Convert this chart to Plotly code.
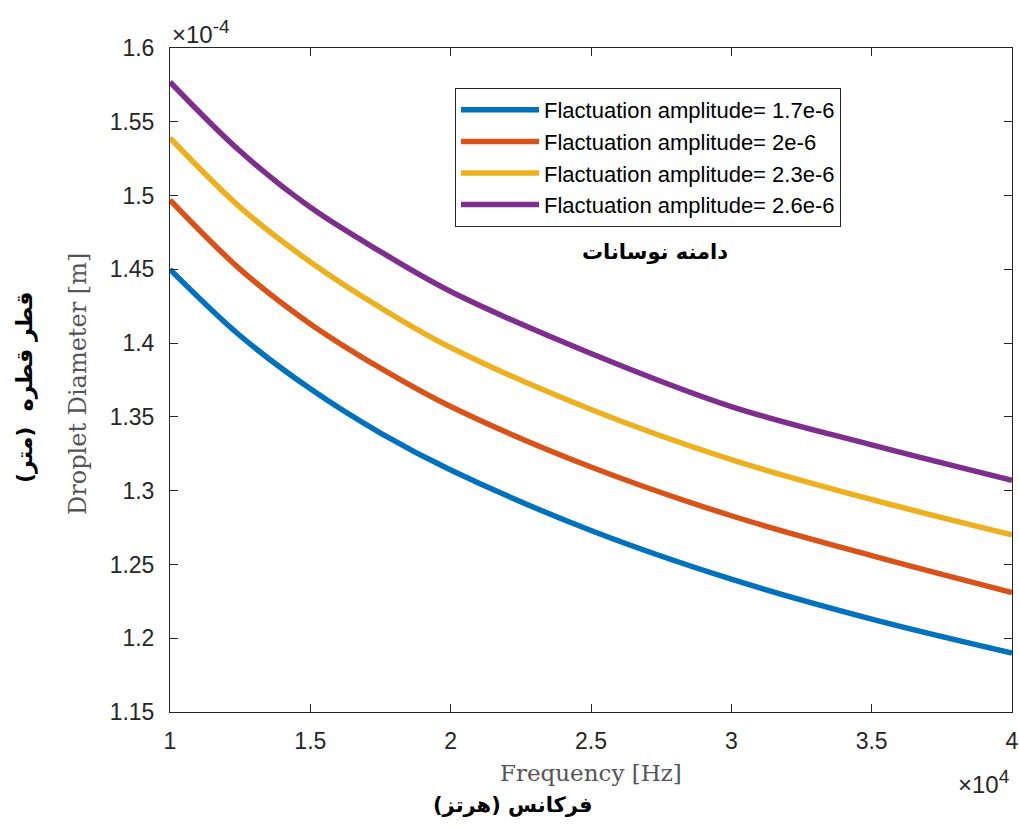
import plotly.graph_objects as go

# Frequency in units of 1e4 Hz
freq = [1.0, 1.25, 1.5, 1.75, 2.0, 2.5, 3.0, 3.5, 4.0]
# Droplet diameter in units of 1e-4 m
diam_17 = [1.450, 1.405, 1.369, 1.339, 1.314, 1.273, 1.240, 1.213, 1.190]
diam_20 = [1.497, 1.450, 1.413, 1.383, 1.357, 1.316, 1.283, 1.256, 1.231]
diam_23 = [1.539, 1.492, 1.455, 1.424, 1.397, 1.355, 1.321, 1.294, 1.270]
diam_26 = [1.577, 1.530, 1.492, 1.462, 1.435, 1.393, 1.357, 1.331, 1.307]

series_names = ["Flactuation amplitude= 1.7e-6", "Flactuation amplitude= 2e-6",
                "Flactuation amplitude= 2.3e-6", "Flactuation amplitude= 2.6e-6"]
series_vals = [diam_17, diam_20, diam_23, diam_26]
colors = ["#0072BD", "#D95319", "#EDB120", "#7E2F8E"]

x_ticks = [1, 1.5, 2, 2.5, 3, 3.5, 4]
x_ticklabels = ["1", "1.5", "2", "2.5", "3", "3.5", "4"]
y_ticks = [1.15, 1.2, 1.25, 1.3, 1.35, 1.4, 1.45, 1.5, 1.55, 1.6]
y_ticklabels = ["1.15", "1.2", "1.25", "1.3", "1.35", "1.4", "1.45", "1.5", "1.55", "1.6"]

fig = go.Figure()
for i, (name, vals, c) in enumerate(zip(series_names, series_vals, colors)):
    fig.add_trace(go.Scatter(x=freq, y=vals, mode="lines", name=name,
                             legendgroup=f"g{i}",
                             line=dict(color=c, width=5.5, shape="spline", smoothing=1.0)))

axis_col = "#262626"
fig.update_layout(
    width=1019, height=827,
    margin=dict(l=170, r=7, t=48, b=115, autoexpand=False),
    plot_bgcolor="white", paper_bgcolor="white",
    font=dict(family="Liberation Sans, Arial", size=23, color=axis_col),
    showlegend=True,
    legend=dict(x=(455 - 170) / 842, y=(712 - 88) / 664, xanchor="left", yanchor="top",
                bgcolor="white", bordercolor=axis_col, borderwidth=1,
                font=dict(family="Liberation Sans, Arial", size=22, color="#000000"),
                tracegroupgap=0, traceorder="grouped", itemwidth=78),
    xaxis=dict(range=[1, 4], tickvals=x_ticks, ticktext=x_ticklabels, automargin=False,
               showgrid=False, zeroline=False, showline=True, linecolor=axis_col,
               linewidth=1, mirror="ticks", ticks="inside", ticklen=8,
               tickcolor=axis_col, ticklabelstandoff=8,
               tickfont=dict(size=23, color=axis_col)),
    yaxis=dict(range=[1.15, 1.6], tickvals=y_ticks, ticktext=y_ticklabels, automargin=False,
               showgrid=False, zeroline=False, showline=True, linecolor=axis_col,
               linewidth=1, mirror="ticks", ticks="inside", ticklen=8,
               tickcolor=axis_col, ticklabelstandoff=10,
               tickfont=dict(size=23, color=axis_col)),
)

annots = [
    dict(text="×10<sup><span style='font-size:19px'>-4</span></sup>", x=0, y=1.0,
         xref="paper", yref="paper",
         xanchor="left", yanchor="bottom", showarrow=False, yshift=-2,
         font=dict(size=24, color=axis_col)),
    dict(text="×10<sup><span style='font-size:19px'>4</span></sup>", x=1.0, y=0,
         xref="paper", yref="paper",
         xanchor="right", yanchor="top", showarrow=False, yshift=-52,
         font=dict(size=24, color=axis_col)),
    dict(text="Frequency [Hz]", x=0.5, y=0, xref="paper", yref="paper",
         xanchor="center", yanchor="top", showarrow=False, yshift=-46,
         font=dict(family="DejaVu Serif, Liberation Serif", size=23, color="#555555")),
    dict(text="<b>فرکانس (هرتز)</b>", x=(513 - 170) / 842, y=0, xref="paper", yref="paper",
         xanchor="center", yanchor="top", showarrow=False, yshift=-79,
         font=dict(family="DejaVu Sans", size=21, color="#000000")),
    dict(text="Droplet Diameter [m]", x=0, y=0.5, xref="paper", yref="paper",
         xanchor="center", yanchor="middle", showarrow=False, xshift=-92, textangle=-90,
         yshift=-4,
         font=dict(family="DejaVu Serif, Liberation Serif", size=24, color="#555555")),
    dict(text="<b>قطر قطره  (متر)</b>", x=0, y=0.5, xref="paper", yref="paper",
         xanchor="center", yanchor="middle", showarrow=False, xshift=-145, yshift=-8,
         textangle=-90,
         font=dict(family="DejaVu Sans", size=22, color="#000000")),
    dict(text="<b>دامنه نوسانات</b>", x=(655 - 170) / 842, y=(712 - 252) / 664,
         xref="paper", yref="paper",
         xanchor="center", yanchor="middle", showarrow=False,
         font=dict(family="DejaVu Sans", size=21, color="#000000")),
]
fig.update_layout(annotations=annots)

fig.write_html("out.html")
